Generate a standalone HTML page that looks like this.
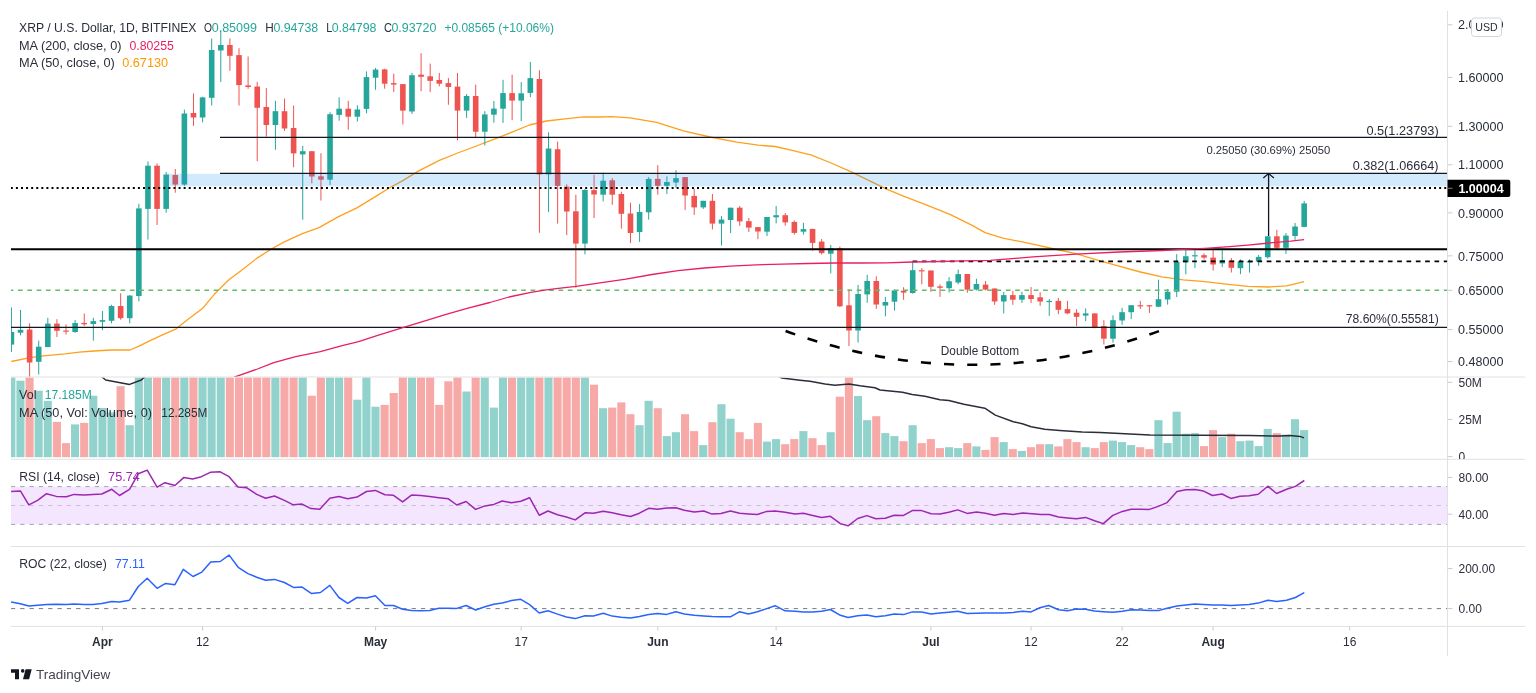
<!DOCTYPE html><html><head><meta charset="utf-8"><title>XRP / U.S. Dollar chart</title><style>html,body{margin:0;padding:0;background:#fff;}body{width:1536px;height:693px;overflow:hidden;}svg{display:block;} text{font-family:"Liberation Sans", Arial, sans-serif;}</style></head><body>
<svg width="1536" height="693" viewBox="0 0 1536 693">
<defs><clipPath id="cp"><rect x="11" y="11" width="1436.5" height="366"/></clipPath><clipPath id="cv"><rect x="11" y="377.5" width="1436.5" height="81.5"/></clipPath><clipPath id="cr"><rect x="11" y="459.5" width="1436.5" height="87.0"/></clipPath><clipPath id="co"><rect x="11" y="547.0" width="1436.5" height="79.5"/></clipPath><clipPath id="cva"><rect x="1447.5" y="377.5" width="100" height="81.5"/></clipPath></defs>
<rect x="0" y="0" width="1536" height="693" fill="#ffffff"/>
<g clip-path="url(#cp)">
<polyline points="11.3,361.5 28.9,357.9 43.3,355.8 64.9,353.9 79.4,352.2 93.8,351.0 111.1,350.0 129.9,350.0 138.5,346.4 148.6,341.3 161.9,335.2 176.2,328.8 188.1,319.3 202.4,308.6 214.3,294.3 228.6,280.0 242.9,269.3 257.1,258.1 271.4,249.0 283.3,242.4 302.4,233.6 319.0,227.6 338.1,216.9 356.9,207.9 373.8,197.6 388.8,188.2 401.9,181.1 418.8,170.9 439.4,160.4 456.3,153.5 475.1,146.5 493.8,139.4 512.6,131.9 529.5,125.0 546.4,121.0 565.1,118.8 583.9,116.9 600.0,117.0 611.4,116.7 630.0,117.8 656.7,122.4 683.4,130.9 710.1,137.0 736.8,142.2 758.2,145.2 775.2,146.5 792.1,150.4 811.6,155.2 831.1,163.0 850.7,171.7 870.2,181.2 887.1,189.4 902.8,195.9 922.3,203.4 940.0,210.3 950.4,214.6 971.7,225.1 985.1,232.6 1002.9,238.2 1022.2,241.9 1037.3,245.1 1054.4,249.0 1075.9,253.7 1097.4,260.2 1118.9,266.2 1140.4,272.0 1161.9,276.9 1183.3,279.9 1204.8,281.6 1226.3,284.2 1247.8,286.4 1269.3,287.0 1286.5,285.9 1295.0,283.8 1304.1,281.6" fill="none" stroke="#ffa01c" stroke-width="1.3" stroke-linejoin="round"/>
<rect x="10.90" y="307.4" width="1" height="44.6" fill="#26a69a"/>
<rect x="8.60" y="332.0" width="5.6" height="12.6" fill="#26a69a"/>
<rect x="20.00" y="310.0" width="1" height="25.3" fill="#26a69a"/>
<rect x="17.70" y="329.8" width="5.6" height="2.9" fill="#26a69a"/>
<rect x="29.11" y="323.3" width="1" height="56.7" fill="#ef5350"/>
<rect x="26.81" y="329.5" width="5.6" height="33.0" fill="#ef5350"/>
<rect x="38.21" y="340.6" width="1" height="33.9" fill="#26a69a"/>
<rect x="35.91" y="346.7" width="5.6" height="15.1" fill="#26a69a"/>
<rect x="47.32" y="317.8" width="1" height="29.3" fill="#26a69a"/>
<rect x="45.02" y="323.6" width="5.6" height="23.5" fill="#26a69a"/>
<rect x="56.42" y="319.2" width="1" height="17.8" fill="#ef5350"/>
<rect x="54.12" y="323.6" width="5.6" height="7.2" fill="#ef5350"/>
<rect x="65.52" y="324.4" width="1" height="10.1" fill="#ef5350"/>
<rect x="63.22" y="330.5" width="5.6" height="1.2" fill="#ef5350"/>
<rect x="74.63" y="320.0" width="1" height="12.7" fill="#26a69a"/>
<rect x="72.33" y="323.0" width="5.6" height="9.0" fill="#26a69a"/>
<rect x="83.73" y="313.5" width="1" height="12.4" fill="#ef5350"/>
<rect x="81.43" y="322.9" width="5.6" height="1.4" fill="#ef5350"/>
<rect x="92.84" y="317.8" width="1" height="22.8" fill="#26a69a"/>
<rect x="90.54" y="321.1" width="5.6" height="2.9" fill="#26a69a"/>
<rect x="101.94" y="311.0" width="1" height="19.2" fill="#26a69a"/>
<rect x="99.64" y="320.1" width="5.6" height="1.7" fill="#26a69a"/>
<rect x="111.04" y="304.8" width="1" height="18.5" fill="#26a69a"/>
<rect x="108.74" y="306.0" width="5.6" height="14.8" fill="#26a69a"/>
<rect x="120.15" y="293.3" width="1" height="26.4" fill="#ef5350"/>
<rect x="117.85" y="306.0" width="5.6" height="12.2" fill="#ef5350"/>
<rect x="129.25" y="295.0" width="1" height="28.3" fill="#26a69a"/>
<rect x="126.95" y="295.6" width="5.6" height="22.6" fill="#26a69a"/>
<rect x="138.36" y="203.8" width="1" height="97.5" fill="#26a69a"/>
<rect x="136.06" y="208.4" width="5.6" height="87.6" fill="#26a69a"/>
<rect x="147.46" y="161.5" width="1" height="78.1" fill="#26a69a"/>
<rect x="145.16" y="165.7" width="5.6" height="43.2" fill="#26a69a"/>
<rect x="156.56" y="163.4" width="1" height="61.6" fill="#ef5350"/>
<rect x="154.26" y="165.7" width="5.6" height="43.2" fill="#ef5350"/>
<rect x="165.67" y="172.0" width="1" height="40.8" fill="#26a69a"/>
<rect x="163.37" y="174.5" width="5.6" height="34.4" fill="#26a69a"/>
<rect x="174.77" y="169.0" width="1" height="23.7" fill="#ef5350"/>
<rect x="172.47" y="175.0" width="5.6" height="9.6" fill="#ef5350"/>
<rect x="183.88" y="109.6" width="1" height="76.2" fill="#26a69a"/>
<rect x="181.58" y="113.5" width="5.6" height="71.1" fill="#26a69a"/>
<rect x="192.98" y="93.4" width="1" height="32.4" fill="#ef5350"/>
<rect x="190.68" y="113.0" width="5.6" height="4.5" fill="#ef5350"/>
<rect x="202.08" y="96.7" width="1" height="25.6" fill="#26a69a"/>
<rect x="199.78" y="97.4" width="5.6" height="20.1" fill="#26a69a"/>
<rect x="211.19" y="38.5" width="1" height="67.0" fill="#26a69a"/>
<rect x="208.89" y="50.0" width="5.6" height="47.8" fill="#26a69a"/>
<rect x="220.29" y="30.4" width="1" height="51.5" fill="#26a69a"/>
<rect x="217.99" y="45.0" width="5.6" height="5.5" fill="#26a69a"/>
<rect x="229.40" y="38.5" width="1" height="32.3" fill="#ef5350"/>
<rect x="227.10" y="45.0" width="5.6" height="10.8" fill="#ef5350"/>
<rect x="238.50" y="48.2" width="1" height="57.3" fill="#ef5350"/>
<rect x="236.20" y="55.1" width="5.6" height="30.0" fill="#ef5350"/>
<rect x="247.60" y="56.5" width="1" height="32.3" fill="#ef5350"/>
<rect x="245.30" y="85.4" width="5.6" height="1.6" fill="#ef5350"/>
<rect x="256.71" y="81.9" width="1" height="79.4" fill="#ef5350"/>
<rect x="254.41" y="86.5" width="5.6" height="21.3" fill="#ef5350"/>
<rect x="265.81" y="88.1" width="1" height="48.5" fill="#ef5350"/>
<rect x="263.51" y="107.0" width="5.6" height="18.0" fill="#ef5350"/>
<rect x="274.92" y="100.8" width="1" height="49.0" fill="#26a69a"/>
<rect x="272.62" y="111.2" width="5.6" height="13.8" fill="#26a69a"/>
<rect x="284.02" y="98.5" width="1" height="32.4" fill="#ef5350"/>
<rect x="281.72" y="111.2" width="5.6" height="17.3" fill="#ef5350"/>
<rect x="293.12" y="105.5" width="1" height="61.8" fill="#ef5350"/>
<rect x="290.82" y="128.0" width="5.6" height="25.4" fill="#ef5350"/>
<rect x="302.23" y="145.9" width="1" height="73.8" fill="#26a69a"/>
<rect x="299.93" y="151.2" width="5.6" height="3.2" fill="#26a69a"/>
<rect x="311.33" y="151.2" width="1" height="32.2" fill="#ef5350"/>
<rect x="309.03" y="151.2" width="5.6" height="25.3" fill="#ef5350"/>
<rect x="320.44" y="153.2" width="1" height="47.3" fill="#ef5350"/>
<rect x="318.14" y="176.3" width="5.6" height="3.4" fill="#ef5350"/>
<rect x="329.54" y="112.3" width="1" height="72.7" fill="#26a69a"/>
<rect x="327.24" y="114.2" width="5.6" height="65.5" fill="#26a69a"/>
<rect x="338.64" y="97.3" width="1" height="23.4" fill="#26a69a"/>
<rect x="336.34" y="108.7" width="5.6" height="6.2" fill="#26a69a"/>
<rect x="347.75" y="100.8" width="1" height="28.9" fill="#ef5350"/>
<rect x="345.45" y="108.7" width="5.6" height="8.0" fill="#ef5350"/>
<rect x="356.85" y="105.2" width="1" height="16.4" fill="#26a69a"/>
<rect x="354.55" y="109.5" width="5.6" height="7.2" fill="#26a69a"/>
<rect x="365.96" y="71.4" width="1" height="41.9" fill="#26a69a"/>
<rect x="363.66" y="77.1" width="5.6" height="31.8" fill="#26a69a"/>
<rect x="375.06" y="67.9" width="1" height="21.9" fill="#26a69a"/>
<rect x="372.76" y="69.6" width="5.6" height="8.1" fill="#26a69a"/>
<rect x="384.16" y="68.7" width="1" height="20.0" fill="#ef5350"/>
<rect x="381.86" y="69.4" width="5.6" height="14.3" fill="#ef5350"/>
<rect x="393.27" y="73.7" width="1" height="18.4" fill="#ef5350"/>
<rect x="390.97" y="83.1" width="5.6" height="1.5" fill="#ef5350"/>
<rect x="402.37" y="84.1" width="1" height="40.4" fill="#ef5350"/>
<rect x="400.07" y="84.1" width="5.6" height="26.5" fill="#ef5350"/>
<rect x="411.48" y="72.9" width="1" height="41.0" fill="#26a69a"/>
<rect x="409.18" y="75.2" width="5.6" height="36.3" fill="#26a69a"/>
<rect x="420.58" y="53.2" width="1" height="38.1" fill="#ef5350"/>
<rect x="418.28" y="74.6" width="5.6" height="2.2" fill="#ef5350"/>
<rect x="429.68" y="63.6" width="1" height="28.5" fill="#ef5350"/>
<rect x="427.38" y="76.3" width="5.6" height="4.6" fill="#ef5350"/>
<rect x="438.79" y="72.9" width="1" height="13.5" fill="#ef5350"/>
<rect x="436.49" y="80.0" width="5.6" height="3.7" fill="#ef5350"/>
<rect x="447.89" y="77.9" width="1" height="26.9" fill="#ef5350"/>
<rect x="445.59" y="83.1" width="5.6" height="3.8" fill="#ef5350"/>
<rect x="457.00" y="72.9" width="1" height="67.5" fill="#ef5350"/>
<rect x="454.70" y="86.6" width="5.6" height="24.0" fill="#ef5350"/>
<rect x="466.10" y="94.1" width="1" height="23.8" fill="#26a69a"/>
<rect x="463.80" y="96.0" width="5.6" height="14.6" fill="#26a69a"/>
<rect x="475.20" y="84.6" width="1" height="52.4" fill="#ef5350"/>
<rect x="472.90" y="96.0" width="5.6" height="35.7" fill="#ef5350"/>
<rect x="484.31" y="111.1" width="1" height="34.4" fill="#26a69a"/>
<rect x="482.01" y="114.4" width="5.6" height="17.3" fill="#26a69a"/>
<rect x="493.41" y="101.0" width="1" height="21.7" fill="#26a69a"/>
<rect x="491.11" y="108.6" width="5.6" height="6.1" fill="#26a69a"/>
<rect x="502.52" y="79.8" width="1" height="43.1" fill="#26a69a"/>
<rect x="500.22" y="93.1" width="5.6" height="15.6" fill="#26a69a"/>
<rect x="511.62" y="74.6" width="1" height="45.6" fill="#ef5350"/>
<rect x="509.32" y="93.1" width="5.6" height="7.5" fill="#ef5350"/>
<rect x="520.72" y="82.1" width="1" height="38.9" fill="#26a69a"/>
<rect x="518.42" y="93.3" width="5.6" height="7.3" fill="#26a69a"/>
<rect x="529.83" y="61.9" width="1" height="35.2" fill="#26a69a"/>
<rect x="527.53" y="78.1" width="5.6" height="14.8" fill="#26a69a"/>
<rect x="538.93" y="70.2" width="1" height="162.6" fill="#ef5350"/>
<rect x="536.63" y="79.0" width="5.6" height="95.4" fill="#ef5350"/>
<rect x="548.04" y="132.3" width="1" height="79.7" fill="#26a69a"/>
<rect x="545.74" y="148.5" width="5.6" height="25.9" fill="#26a69a"/>
<rect x="557.14" y="141.6" width="1" height="82.0" fill="#ef5350"/>
<rect x="554.84" y="149.2" width="5.6" height="36.7" fill="#ef5350"/>
<rect x="566.24" y="184.3" width="1" height="50.8" fill="#ef5350"/>
<rect x="563.94" y="186.6" width="5.6" height="24.9" fill="#ef5350"/>
<rect x="575.35" y="194.7" width="1" height="93.0" fill="#ef5350"/>
<rect x="573.05" y="211.3" width="5.6" height="32.3" fill="#ef5350"/>
<rect x="584.45" y="188.9" width="1" height="65.4" fill="#26a69a"/>
<rect x="582.15" y="190.0" width="5.6" height="53.6" fill="#26a69a"/>
<rect x="593.56" y="174.8" width="1" height="43.3" fill="#ef5350"/>
<rect x="591.26" y="190.1" width="5.6" height="4.4" fill="#ef5350"/>
<rect x="602.66" y="172.5" width="1" height="28.9" fill="#26a69a"/>
<rect x="600.36" y="180.7" width="5.6" height="14.0" fill="#26a69a"/>
<rect x="611.76" y="178.1" width="1" height="26.7" fill="#ef5350"/>
<rect x="609.46" y="180.3" width="5.6" height="14.4" fill="#ef5350"/>
<rect x="620.87" y="191.6" width="1" height="37.0" fill="#ef5350"/>
<rect x="618.57" y="194.0" width="5.6" height="19.8" fill="#ef5350"/>
<rect x="629.97" y="202.7" width="1" height="40.4" fill="#ef5350"/>
<rect x="627.67" y="213.5" width="5.6" height="19.5" fill="#ef5350"/>
<rect x="639.08" y="204.1" width="1" height="37.8" fill="#26a69a"/>
<rect x="636.78" y="212.0" width="5.6" height="20.0" fill="#26a69a"/>
<rect x="648.18" y="177.1" width="1" height="42.5" fill="#26a69a"/>
<rect x="645.88" y="178.9" width="5.6" height="33.4" fill="#26a69a"/>
<rect x="657.28" y="165.2" width="1" height="29.5" fill="#ef5350"/>
<rect x="654.98" y="178.9" width="5.6" height="6.9" fill="#ef5350"/>
<rect x="666.39" y="176.3" width="1" height="17.7" fill="#26a69a"/>
<rect x="664.09" y="182.0" width="5.6" height="3.8" fill="#26a69a"/>
<rect x="675.49" y="170.2" width="1" height="17.6" fill="#26a69a"/>
<rect x="673.19" y="178.1" width="5.6" height="4.4" fill="#26a69a"/>
<rect x="684.60" y="177.1" width="1" height="32.8" fill="#ef5350"/>
<rect x="682.30" y="177.1" width="5.6" height="18.4" fill="#ef5350"/>
<rect x="693.70" y="188.7" width="1" height="26.2" fill="#ef5350"/>
<rect x="691.40" y="195.9" width="5.6" height="11.5" fill="#ef5350"/>
<rect x="702.80" y="200.8" width="1" height="8.1" fill="#26a69a"/>
<rect x="700.50" y="200.8" width="5.6" height="6.6" fill="#26a69a"/>
<rect x="711.91" y="194.0" width="1" height="35.4" fill="#ef5350"/>
<rect x="709.61" y="200.8" width="5.6" height="22.8" fill="#ef5350"/>
<rect x="721.01" y="216.1" width="1" height="29.4" fill="#26a69a"/>
<rect x="718.71" y="219.6" width="5.6" height="4.0" fill="#26a69a"/>
<rect x="730.12" y="207.7" width="1" height="25.3" fill="#26a69a"/>
<rect x="727.82" y="207.7" width="5.6" height="12.3" fill="#26a69a"/>
<rect x="739.22" y="206.0" width="1" height="19.8" fill="#ef5350"/>
<rect x="736.92" y="207.7" width="5.6" height="13.7" fill="#ef5350"/>
<rect x="748.32" y="217.9" width="1" height="14.1" fill="#ef5350"/>
<rect x="746.02" y="221.2" width="5.6" height="6.4" fill="#ef5350"/>
<rect x="757.43" y="227.1" width="1" height="12.1" fill="#ef5350"/>
<rect x="755.13" y="227.1" width="5.6" height="4.4" fill="#ef5350"/>
<rect x="766.53" y="217.0" width="1" height="19.1" fill="#26a69a"/>
<rect x="764.23" y="217.0" width="5.6" height="14.7" fill="#26a69a"/>
<rect x="775.64" y="206.0" width="1" height="17.4" fill="#26a69a"/>
<rect x="773.34" y="215.2" width="5.6" height="2.1" fill="#26a69a"/>
<rect x="784.74" y="213.0" width="1" height="12.7" fill="#ef5350"/>
<rect x="782.44" y="215.2" width="5.6" height="7.2" fill="#ef5350"/>
<rect x="793.84" y="220.5" width="1" height="14.1" fill="#ef5350"/>
<rect x="791.54" y="221.9" width="5.6" height="11.0" fill="#ef5350"/>
<rect x="802.95" y="222.8" width="1" height="11.8" fill="#26a69a"/>
<rect x="800.65" y="229.1" width="5.6" height="2.6" fill="#26a69a"/>
<rect x="812.05" y="228.9" width="1" height="21.9" fill="#ef5350"/>
<rect x="809.75" y="228.9" width="5.6" height="14.0" fill="#ef5350"/>
<rect x="821.16" y="239.0" width="1" height="15.5" fill="#ef5350"/>
<rect x="818.86" y="241.6" width="5.6" height="11.5" fill="#ef5350"/>
<rect x="830.26" y="245.0" width="1" height="28.4" fill="#26a69a"/>
<rect x="827.96" y="248.3" width="5.6" height="5.4" fill="#26a69a"/>
<rect x="839.36" y="246.5" width="1" height="60.5" fill="#ef5350"/>
<rect x="837.06" y="248.3" width="5.6" height="58.0" fill="#ef5350"/>
<rect x="848.47" y="289.2" width="1" height="56.8" fill="#ef5350"/>
<rect x="846.17" y="305.3" width="5.6" height="25.2" fill="#ef5350"/>
<rect x="857.57" y="284.9" width="1" height="57.7" fill="#26a69a"/>
<rect x="855.27" y="294.0" width="5.6" height="36.5" fill="#26a69a"/>
<rect x="866.68" y="274.8" width="1" height="27.9" fill="#26a69a"/>
<rect x="864.38" y="281.0" width="5.6" height="13.4" fill="#26a69a"/>
<rect x="875.78" y="276.3" width="1" height="32.6" fill="#ef5350"/>
<rect x="873.48" y="281.0" width="5.6" height="23.5" fill="#ef5350"/>
<rect x="884.88" y="296.9" width="1" height="19.5" fill="#26a69a"/>
<rect x="882.58" y="302.0" width="5.6" height="3.6" fill="#26a69a"/>
<rect x="893.99" y="289.2" width="1" height="21.4" fill="#26a69a"/>
<rect x="891.69" y="290.4" width="5.6" height="11.3" fill="#26a69a"/>
<rect x="903.09" y="287.2" width="1" height="12.6" fill="#ef5350"/>
<rect x="900.79" y="290.7" width="5.6" height="1.9" fill="#ef5350"/>
<rect x="912.20" y="261.5" width="1" height="32.1" fill="#26a69a"/>
<rect x="909.90" y="270.2" width="5.6" height="22.8" fill="#26a69a"/>
<rect x="921.30" y="268.0" width="1" height="16.3" fill="#ef5350"/>
<rect x="919.00" y="270.2" width="5.6" height="1.2" fill="#ef5350"/>
<rect x="930.40" y="270.5" width="1" height="21.3" fill="#ef5350"/>
<rect x="928.10" y="270.5" width="5.6" height="16.3" fill="#ef5350"/>
<rect x="939.51" y="284.3" width="1" height="12.6" fill="#ef5350"/>
<rect x="937.21" y="286.4" width="5.6" height="1.4" fill="#ef5350"/>
<rect x="948.61" y="277.1" width="1" height="15.5" fill="#26a69a"/>
<rect x="946.31" y="281.3" width="5.6" height="6.9" fill="#26a69a"/>
<rect x="957.72" y="269.5" width="1" height="14.8" fill="#26a69a"/>
<rect x="955.42" y="274.1" width="5.6" height="8.4" fill="#26a69a"/>
<rect x="966.82" y="274.0" width="1" height="18.8" fill="#ef5350"/>
<rect x="964.52" y="274.0" width="5.6" height="15.6" fill="#ef5350"/>
<rect x="975.92" y="278.8" width="1" height="11.6" fill="#26a69a"/>
<rect x="973.62" y="284.0" width="5.6" height="5.6" fill="#26a69a"/>
<rect x="985.03" y="281.0" width="1" height="9.4" fill="#ef5350"/>
<rect x="982.73" y="284.6" width="5.6" height="5.0" fill="#ef5350"/>
<rect x="994.13" y="288.5" width="1" height="16.3" fill="#ef5350"/>
<rect x="991.83" y="288.5" width="5.6" height="13.0" fill="#ef5350"/>
<rect x="1003.24" y="291.8" width="1" height="21.6" fill="#26a69a"/>
<rect x="1000.94" y="295.1" width="5.6" height="6.4" fill="#26a69a"/>
<rect x="1012.34" y="290.8" width="1" height="14.0" fill="#ef5350"/>
<rect x="1010.04" y="295.1" width="5.6" height="4.6" fill="#ef5350"/>
<rect x="1021.44" y="291.8" width="1" height="11.1" fill="#26a69a"/>
<rect x="1019.14" y="295.1" width="5.6" height="4.6" fill="#26a69a"/>
<rect x="1030.55" y="287.0" width="1" height="15.9" fill="#ef5350"/>
<rect x="1028.25" y="295.1" width="5.6" height="3.9" fill="#ef5350"/>
<rect x="1039.65" y="292.2" width="1" height="13.6" fill="#ef5350"/>
<rect x="1037.35" y="297.3" width="5.6" height="4.2" fill="#ef5350"/>
<rect x="1048.76" y="299.0" width="1" height="16.9" fill="#26a69a"/>
<rect x="1046.46" y="300.9" width="5.6" height="1.2" fill="#26a69a"/>
<rect x="1057.86" y="298.0" width="1" height="16.2" fill="#ef5350"/>
<rect x="1055.56" y="300.9" width="5.6" height="8.9" fill="#ef5350"/>
<rect x="1066.96" y="300.9" width="1" height="13.3" fill="#ef5350"/>
<rect x="1064.66" y="309.1" width="5.6" height="4.3" fill="#ef5350"/>
<rect x="1076.07" y="309.1" width="1" height="16.9" fill="#ef5350"/>
<rect x="1073.77" y="312.7" width="5.6" height="4.1" fill="#ef5350"/>
<rect x="1085.17" y="308.4" width="1" height="12.7" fill="#26a69a"/>
<rect x="1082.87" y="313.4" width="5.6" height="2.2" fill="#26a69a"/>
<rect x="1094.28" y="313.4" width="1" height="14.9" fill="#ef5350"/>
<rect x="1091.98" y="313.4" width="5.6" height="13.8" fill="#ef5350"/>
<rect x="1103.38" y="320.2" width="1" height="24.3" fill="#ef5350"/>
<rect x="1101.08" y="326.0" width="5.6" height="12.7" fill="#ef5350"/>
<rect x="1112.48" y="315.3" width="1" height="27.4" fill="#26a69a"/>
<rect x="1110.18" y="320.2" width="5.6" height="18.5" fill="#26a69a"/>
<rect x="1121.59" y="307.8" width="1" height="17.0" fill="#26a69a"/>
<rect x="1119.29" y="312.2" width="5.6" height="8.3" fill="#26a69a"/>
<rect x="1130.69" y="305.2" width="1" height="13.9" fill="#26a69a"/>
<rect x="1128.39" y="305.2" width="5.6" height="7.0" fill="#26a69a"/>
<rect x="1139.80" y="300.9" width="1" height="8.1" fill="#ef5350"/>
<rect x="1137.50" y="305.2" width="5.6" height="1.2" fill="#ef5350"/>
<rect x="1148.90" y="305.2" width="1" height="7.7" fill="#ef5350"/>
<rect x="1146.60" y="305.2" width="5.6" height="1.2" fill="#ef5350"/>
<rect x="1158.00" y="279.7" width="1" height="27.4" fill="#26a69a"/>
<rect x="1155.70" y="299.2" width="5.6" height="7.5" fill="#26a69a"/>
<rect x="1167.11" y="289.1" width="1" height="15.5" fill="#26a69a"/>
<rect x="1164.81" y="291.7" width="5.6" height="7.8" fill="#26a69a"/>
<rect x="1176.21" y="254.1" width="1" height="42.9" fill="#26a69a"/>
<rect x="1173.91" y="261.9" width="5.6" height="29.8" fill="#26a69a"/>
<rect x="1185.32" y="250.1" width="1" height="24.2" fill="#26a69a"/>
<rect x="1183.02" y="256.2" width="5.6" height="6.2" fill="#26a69a"/>
<rect x="1194.42" y="250.4" width="1" height="17.7" fill="#26a69a"/>
<rect x="1192.12" y="255.2" width="5.6" height="1.2" fill="#26a69a"/>
<rect x="1203.52" y="253.3" width="1" height="6.2" fill="#ef5350"/>
<rect x="1201.22" y="255.2" width="5.6" height="2.4" fill="#ef5350"/>
<rect x="1212.63" y="247.9" width="1" height="22.7" fill="#ef5350"/>
<rect x="1210.33" y="257.6" width="5.6" height="6.9" fill="#ef5350"/>
<rect x="1221.73" y="248.4" width="1" height="18.7" fill="#26a69a"/>
<rect x="1219.43" y="260.2" width="5.6" height="3.2" fill="#26a69a"/>
<rect x="1230.84" y="258.0" width="1" height="14.5" fill="#ef5350"/>
<rect x="1228.54" y="260.5" width="5.6" height="7.3" fill="#ef5350"/>
<rect x="1239.94" y="259.3" width="1" height="14.9" fill="#26a69a"/>
<rect x="1237.64" y="261.6" width="5.6" height="6.6" fill="#26a69a"/>
<rect x="1249.04" y="259.3" width="1" height="13.3" fill="#26a69a"/>
<rect x="1246.74" y="261.3" width="5.6" height="1.2" fill="#26a69a"/>
<rect x="1258.15" y="255.0" width="1" height="10.8" fill="#26a69a"/>
<rect x="1255.85" y="256.9" width="5.6" height="4.6" fill="#26a69a"/>
<rect x="1267.25" y="236.3" width="1" height="22.3" fill="#26a69a"/>
<rect x="1264.95" y="236.3" width="5.6" height="20.9" fill="#26a69a"/>
<rect x="1276.36" y="229.8" width="1" height="19.2" fill="#ef5350"/>
<rect x="1274.06" y="236.3" width="5.6" height="11.5" fill="#ef5350"/>
<rect x="1285.46" y="233.1" width="1" height="20.8" fill="#26a69a"/>
<rect x="1283.16" y="235.6" width="5.6" height="12.2" fill="#26a69a"/>
<rect x="1294.56" y="223.0" width="1" height="16.9" fill="#26a69a"/>
<rect x="1292.26" y="226.5" width="5.6" height="9.5" fill="#26a69a"/>
<rect x="1303.67" y="200.9" width="1" height="26.4" fill="#26a69a"/>
<rect x="1301.37" y="203.4" width="5.6" height="23.5" fill="#26a69a"/>
<rect x="166.4" y="173.8" width="1281.1" height="12.6" fill="rgba(33,150,243,0.2)"/>
<line x1="220" y1="137.4" x2="1447.5" y2="137.4" stroke="#131722" stroke-width="1.2"/>
<line x1="220" y1="173.4" x2="1447.5" y2="173.4" stroke="#131722" stroke-width="1.2"/>
<line x1="11" y1="188" x2="1447.5" y2="188" stroke="#000" stroke-width="2" stroke-dasharray="2 3.083" stroke-dashoffset="0.18"/>
<line x1="11" y1="249.3" x2="1447.5" y2="249.3" stroke="#000" stroke-width="2"/>
<line x1="912.6" y1="261.4" x2="1447.5" y2="261.4" stroke="#000" stroke-width="1.6" stroke-dasharray="4.7 4.619"/>
<line x1="11" y1="290.2" x2="1447.5" y2="290.2" stroke="#66bb6a" stroke-width="1.6" stroke-dasharray="4.7 4.619" stroke-dashoffset="2.32"/>
<line x1="11" y1="327.4" x2="1447.5" y2="327.4" stroke="#131722" stroke-width="1.2"/>
<polyline points="234.2,377.2 257.4,369.0 273.8,362.7 295.7,356.6 320.3,351.7 342.2,345.7 358.6,341.6 377.7,335.3 403.7,327.4 424.2,321.1 446.1,314.3 468.0,308.2 489.9,302.5 509.0,297.0 530.9,292.4 544.5,290.2 558.2,288.3 576.0,286.4 596.5,283.4 626.0,279.2 652.0,274.5 678.1,270.6 704.2,268.0 730.2,266.1 756.3,264.8 782.3,264.1 808.3,263.5 834.4,263.0 860.4,263.0 886.5,262.8 912.5,262.0 938.5,261.5 964.6,260.9 990.0,260.4 1033.0,256.9 1075.9,254.1 1118.9,252.0 1161.9,250.5 1183.3,249.4 1204.8,248.3 1226.3,246.8 1247.8,245.1 1269.3,243.0 1290.8,241.2 1304.1,239.7" fill="none" stroke="#e91e63" stroke-width="1.3" stroke-linejoin="round"/>
<line x1="1268.6" y1="236" x2="1268.6" y2="174" stroke="#131722" stroke-width="1.3"/>
<polyline points="1263.3,177.9 1268.6,173.6 1273.9,177.9" fill="none" stroke="#131722" stroke-width="1.3"/>
<path d="M785.6,331 Q972.4,398.6 1159.3,331" fill="none" stroke="#000" stroke-width="2.6" stroke-dasharray="10.1 13.1"/>
</g>
<text x="1366.4" y="134.5" font-size="12" fill="#2a2e39" textLength="72.3" lengthAdjust="spacingAndGlyphs">0.5(1.23793)</text>
<text x="1352.7" y="169.5" font-size="12" fill="#2a2e39" textLength="85.9" lengthAdjust="spacingAndGlyphs">0.382(1.06664)</text>
<text x="1345.8" y="323.4" font-size="12" fill="#2a2e39" textLength="92.9" lengthAdjust="spacingAndGlyphs">78.60%(0.55581)</text>
<text x="1206.4" y="154" font-size="11" fill="#2a2e39" textLength="123.9" lengthAdjust="spacingAndGlyphs">0.25050 (30.69%) 25050</text>
<text x="940.8" y="354.5" font-size="12" fill="#2a2e39" textLength="78.3" lengthAdjust="spacingAndGlyphs">Double Bottom</text>
<text x="19" y="32" font-size="12" fill="#2a2e39" textLength="177.5" lengthAdjust="spacingAndGlyphs">XRP / U.S. Dollar, 1D, BITFINEX</text>
<text x="204" y="32" font-size="12" fill="#2a2e39" textLength="8" lengthAdjust="spacingAndGlyphs">O</text>
<text x="211.7" y="32" font-size="12" fill="#26a69a" textLength="45.3" lengthAdjust="spacingAndGlyphs">0.85099</text>
<text x="265.2" y="32" font-size="12" fill="#2a2e39" textLength="8.5" lengthAdjust="spacingAndGlyphs">H</text>
<text x="273.4" y="32" font-size="12" fill="#26a69a" textLength="44.8" lengthAdjust="spacingAndGlyphs">0.94738</text>
<text x="326.2" y="32" font-size="12" fill="#2a2e39" textLength="6" lengthAdjust="spacingAndGlyphs">L</text>
<text x="331.7" y="32" font-size="12" fill="#26a69a" textLength="44.8" lengthAdjust="spacingAndGlyphs">0.84798</text>
<text x="384" y="32" font-size="12" fill="#2a2e39" textLength="8" lengthAdjust="spacingAndGlyphs">C</text>
<text x="391.4" y="32" font-size="12" fill="#26a69a" textLength="45" lengthAdjust="spacingAndGlyphs">0.93720</text>
<text x="444.4" y="32" font-size="12" fill="#26a69a" textLength="109.6" lengthAdjust="spacingAndGlyphs">+0.08565 (+10.06%)</text>
<text x="19" y="49.9" font-size="12" fill="#2a2e39" textLength="102.5" lengthAdjust="spacingAndGlyphs">MA (200, close, 0)</text>
<text x="129.4" y="49.9" font-size="12" fill="#e91e63" textLength="44.5" lengthAdjust="spacingAndGlyphs">0.80255</text>
<text x="19" y="67.4" font-size="12" fill="#2a2e39" textLength="95.8" lengthAdjust="spacingAndGlyphs">MA (50, close, 0)</text>
<text x="122.2" y="67.4" font-size="12" fill="#ff9800" textLength="45.9" lengthAdjust="spacingAndGlyphs">0.67130</text>
<g clip-path="url(#cv)">
<rect x="7.30" y="370.0" width="8.1" height="87.2" fill="#92d2cc"/>
<rect x="16.40" y="380.7" width="8.1" height="76.5" fill="#92d2cc"/>
<rect x="25.51" y="370.0" width="8.1" height="87.2" fill="#f7a9a7"/>
<rect x="34.61" y="390.7" width="8.1" height="66.5" fill="#92d2cc"/>
<rect x="43.72" y="400.9" width="8.1" height="56.3" fill="#92d2cc"/>
<rect x="52.82" y="421.9" width="8.1" height="35.3" fill="#f7a9a7"/>
<rect x="61.92" y="443.1" width="8.1" height="14.1" fill="#f7a9a7"/>
<rect x="71.03" y="424.4" width="8.1" height="32.8" fill="#92d2cc"/>
<rect x="80.13" y="422.9" width="8.1" height="34.3" fill="#f7a9a7"/>
<rect x="89.24" y="395.7" width="8.1" height="61.5" fill="#92d2cc"/>
<rect x="98.34" y="408.0" width="8.1" height="49.2" fill="#92d2cc"/>
<rect x="107.44" y="412.4" width="8.1" height="44.8" fill="#92d2cc"/>
<rect x="116.55" y="386.2" width="8.1" height="71.0" fill="#f7a9a7"/>
<rect x="125.65" y="425.2" width="8.1" height="32.0" fill="#92d2cc"/>
<rect x="134.76" y="370.0" width="8.1" height="87.2" fill="#92d2cc"/>
<rect x="143.86" y="370.0" width="8.1" height="87.2" fill="#92d2cc"/>
<rect x="152.96" y="370.0" width="8.1" height="87.2" fill="#f7a9a7"/>
<rect x="162.07" y="370.0" width="8.1" height="87.2" fill="#92d2cc"/>
<rect x="171.17" y="370.0" width="8.1" height="87.2" fill="#f7a9a7"/>
<rect x="180.28" y="370.0" width="8.1" height="87.2" fill="#92d2cc"/>
<rect x="189.38" y="370.0" width="8.1" height="87.2" fill="#f7a9a7"/>
<rect x="198.48" y="370.0" width="8.1" height="87.2" fill="#92d2cc"/>
<rect x="207.59" y="370.0" width="8.1" height="87.2" fill="#92d2cc"/>
<rect x="216.69" y="370.0" width="8.1" height="87.2" fill="#92d2cc"/>
<rect x="225.80" y="370.0" width="8.1" height="87.2" fill="#f7a9a7"/>
<rect x="234.90" y="370.0" width="8.1" height="87.2" fill="#f7a9a7"/>
<rect x="244.00" y="370.0" width="8.1" height="87.2" fill="#f7a9a7"/>
<rect x="253.11" y="370.0" width="8.1" height="87.2" fill="#f7a9a7"/>
<rect x="262.21" y="370.0" width="8.1" height="87.2" fill="#f7a9a7"/>
<rect x="271.32" y="370.0" width="8.1" height="87.2" fill="#92d2cc"/>
<rect x="280.42" y="370.0" width="8.1" height="87.2" fill="#f7a9a7"/>
<rect x="289.52" y="370.0" width="8.1" height="87.2" fill="#f7a9a7"/>
<rect x="298.63" y="370.0" width="8.1" height="87.2" fill="#92d2cc"/>
<rect x="307.73" y="395.7" width="8.1" height="61.5" fill="#f7a9a7"/>
<rect x="316.84" y="370.0" width="8.1" height="87.2" fill="#f7a9a7"/>
<rect x="325.94" y="370.0" width="8.1" height="87.2" fill="#92d2cc"/>
<rect x="335.04" y="370.0" width="8.1" height="87.2" fill="#92d2cc"/>
<rect x="344.15" y="370.0" width="8.1" height="87.2" fill="#f7a9a7"/>
<rect x="353.25" y="399.7" width="8.1" height="57.5" fill="#92d2cc"/>
<rect x="362.36" y="370.0" width="8.1" height="87.2" fill="#92d2cc"/>
<rect x="371.46" y="406.7" width="8.1" height="50.5" fill="#92d2cc"/>
<rect x="380.56" y="404.9" width="8.1" height="52.3" fill="#f7a9a7"/>
<rect x="389.67" y="393.0" width="8.1" height="64.2" fill="#f7a9a7"/>
<rect x="398.77" y="370.0" width="8.1" height="87.2" fill="#f7a9a7"/>
<rect x="407.88" y="370.0" width="8.1" height="87.2" fill="#92d2cc"/>
<rect x="416.98" y="370.0" width="8.1" height="87.2" fill="#f7a9a7"/>
<rect x="426.08" y="370.0" width="8.1" height="87.2" fill="#f7a9a7"/>
<rect x="435.19" y="404.9" width="8.1" height="52.3" fill="#f7a9a7"/>
<rect x="444.29" y="381.3" width="8.1" height="75.9" fill="#f7a9a7"/>
<rect x="453.40" y="370.0" width="8.1" height="87.2" fill="#f7a9a7"/>
<rect x="462.50" y="391.5" width="8.1" height="65.7" fill="#92d2cc"/>
<rect x="471.60" y="370.0" width="8.1" height="87.2" fill="#f7a9a7"/>
<rect x="480.71" y="370.0" width="8.1" height="87.2" fill="#92d2cc"/>
<rect x="489.81" y="407.6" width="8.1" height="49.6" fill="#92d2cc"/>
<rect x="498.92" y="370.0" width="8.1" height="87.2" fill="#92d2cc"/>
<rect x="508.02" y="370.0" width="8.1" height="87.2" fill="#f7a9a7"/>
<rect x="517.12" y="370.0" width="8.1" height="87.2" fill="#92d2cc"/>
<rect x="526.23" y="370.0" width="8.1" height="87.2" fill="#92d2cc"/>
<rect x="535.33" y="370.0" width="8.1" height="87.2" fill="#f7a9a7"/>
<rect x="544.44" y="370.0" width="8.1" height="87.2" fill="#92d2cc"/>
<rect x="553.54" y="370.0" width="8.1" height="87.2" fill="#f7a9a7"/>
<rect x="562.64" y="370.0" width="8.1" height="87.2" fill="#f7a9a7"/>
<rect x="571.75" y="370.0" width="8.1" height="87.2" fill="#f7a9a7"/>
<rect x="580.85" y="370.0" width="8.1" height="87.2" fill="#92d2cc"/>
<rect x="589.96" y="384.7" width="8.1" height="72.5" fill="#f7a9a7"/>
<rect x="599.06" y="408.2" width="8.1" height="49.0" fill="#92d2cc"/>
<rect x="608.16" y="407.6" width="8.1" height="49.6" fill="#f7a9a7"/>
<rect x="617.27" y="402.4" width="8.1" height="54.8" fill="#f7a9a7"/>
<rect x="626.37" y="414.2" width="8.1" height="43.0" fill="#f7a9a7"/>
<rect x="635.48" y="425.2" width="8.1" height="32.0" fill="#92d2cc"/>
<rect x="644.58" y="400.8" width="8.1" height="56.4" fill="#92d2cc"/>
<rect x="653.68" y="408.2" width="8.1" height="49.0" fill="#f7a9a7"/>
<rect x="662.79" y="436.1" width="8.1" height="21.1" fill="#92d2cc"/>
<rect x="671.89" y="432.2" width="8.1" height="25.0" fill="#92d2cc"/>
<rect x="681.00" y="414.2" width="8.1" height="43.0" fill="#f7a9a7"/>
<rect x="690.10" y="431.1" width="8.1" height="26.1" fill="#f7a9a7"/>
<rect x="699.20" y="445.1" width="8.1" height="12.1" fill="#92d2cc"/>
<rect x="708.31" y="422.2" width="8.1" height="35.0" fill="#f7a9a7"/>
<rect x="717.41" y="404.2" width="8.1" height="53.0" fill="#92d2cc"/>
<rect x="726.52" y="418.7" width="8.1" height="38.5" fill="#92d2cc"/>
<rect x="735.62" y="432.2" width="8.1" height="25.0" fill="#f7a9a7"/>
<rect x="744.72" y="439.1" width="8.1" height="18.1" fill="#f7a9a7"/>
<rect x="753.83" y="422.9" width="8.1" height="34.3" fill="#f7a9a7"/>
<rect x="762.93" y="441.6" width="8.1" height="15.6" fill="#92d2cc"/>
<rect x="772.04" y="439.1" width="8.1" height="18.1" fill="#92d2cc"/>
<rect x="781.14" y="444.2" width="8.1" height="13.0" fill="#f7a9a7"/>
<rect x="790.24" y="439.1" width="8.1" height="18.1" fill="#f7a9a7"/>
<rect x="799.35" y="431.1" width="8.1" height="26.1" fill="#92d2cc"/>
<rect x="808.45" y="438.2" width="8.1" height="19.0" fill="#f7a9a7"/>
<rect x="817.56" y="445.1" width="8.1" height="12.1" fill="#f7a9a7"/>
<rect x="826.66" y="432.2" width="8.1" height="25.0" fill="#92d2cc"/>
<rect x="835.76" y="396.7" width="8.1" height="60.5" fill="#f7a9a7"/>
<rect x="844.87" y="370.0" width="8.1" height="87.2" fill="#f7a9a7"/>
<rect x="853.97" y="396.0" width="8.1" height="61.2" fill="#92d2cc"/>
<rect x="863.08" y="420.2" width="8.1" height="37.0" fill="#92d2cc"/>
<rect x="872.18" y="416.2" width="8.1" height="41.0" fill="#f7a9a7"/>
<rect x="881.28" y="433.1" width="8.1" height="24.1" fill="#92d2cc"/>
<rect x="890.39" y="436.1" width="8.1" height="21.1" fill="#92d2cc"/>
<rect x="899.49" y="441.2" width="8.1" height="16.0" fill="#f7a9a7"/>
<rect x="908.60" y="425.2" width="8.1" height="32.0" fill="#92d2cc"/>
<rect x="917.70" y="443.1" width="8.1" height="14.1" fill="#f7a9a7"/>
<rect x="926.80" y="439.1" width="8.1" height="18.1" fill="#f7a9a7"/>
<rect x="935.91" y="448.1" width="8.1" height="9.1" fill="#f7a9a7"/>
<rect x="945.01" y="447.2" width="8.1" height="10.0" fill="#92d2cc"/>
<rect x="954.12" y="448.1" width="8.1" height="9.1" fill="#92d2cc"/>
<rect x="963.22" y="443.1" width="8.1" height="14.1" fill="#f7a9a7"/>
<rect x="972.32" y="446.4" width="8.1" height="10.8" fill="#92d2cc"/>
<rect x="981.43" y="449.9" width="8.1" height="7.3" fill="#f7a9a7"/>
<rect x="990.53" y="437.1" width="8.1" height="20.1" fill="#f7a9a7"/>
<rect x="999.64" y="442.1" width="8.1" height="15.1" fill="#92d2cc"/>
<rect x="1008.74" y="449.1" width="8.1" height="8.1" fill="#f7a9a7"/>
<rect x="1017.84" y="450.9" width="8.1" height="6.3" fill="#92d2cc"/>
<rect x="1026.95" y="447.2" width="8.1" height="10.0" fill="#f7a9a7"/>
<rect x="1036.05" y="444.2" width="8.1" height="13.0" fill="#f7a9a7"/>
<rect x="1045.16" y="444.2" width="8.1" height="13.0" fill="#92d2cc"/>
<rect x="1054.26" y="446.4" width="8.1" height="10.8" fill="#f7a9a7"/>
<rect x="1063.36" y="439.1" width="8.1" height="18.1" fill="#f7a9a7"/>
<rect x="1072.47" y="442.1" width="8.1" height="15.1" fill="#f7a9a7"/>
<rect x="1081.57" y="447.2" width="8.1" height="10.0" fill="#92d2cc"/>
<rect x="1090.68" y="448.1" width="8.1" height="9.1" fill="#f7a9a7"/>
<rect x="1099.78" y="442.1" width="8.1" height="15.1" fill="#f7a9a7"/>
<rect x="1108.88" y="440.6" width="8.1" height="16.6" fill="#92d2cc"/>
<rect x="1117.99" y="442.1" width="8.1" height="15.1" fill="#92d2cc"/>
<rect x="1127.09" y="445.1" width="8.1" height="12.1" fill="#92d2cc"/>
<rect x="1136.20" y="447.2" width="8.1" height="10.0" fill="#f7a9a7"/>
<rect x="1145.30" y="449.1" width="8.1" height="8.1" fill="#f7a9a7"/>
<rect x="1154.40" y="420.2" width="8.1" height="37.0" fill="#92d2cc"/>
<rect x="1163.51" y="443.1" width="8.1" height="14.1" fill="#92d2cc"/>
<rect x="1172.61" y="411.7" width="8.1" height="45.5" fill="#92d2cc"/>
<rect x="1181.72" y="433.7" width="8.1" height="23.5" fill="#92d2cc"/>
<rect x="1190.82" y="433.1" width="8.1" height="24.1" fill="#92d2cc"/>
<rect x="1199.92" y="446.1" width="8.1" height="11.1" fill="#f7a9a7"/>
<rect x="1209.03" y="430.1" width="8.1" height="27.1" fill="#f7a9a7"/>
<rect x="1218.13" y="437.1" width="8.1" height="20.1" fill="#92d2cc"/>
<rect x="1227.24" y="433.7" width="8.1" height="23.5" fill="#f7a9a7"/>
<rect x="1236.34" y="441.2" width="8.1" height="16.0" fill="#92d2cc"/>
<rect x="1245.44" y="440.6" width="8.1" height="16.6" fill="#92d2cc"/>
<rect x="1254.55" y="446.1" width="8.1" height="11.1" fill="#92d2cc"/>
<rect x="1263.65" y="428.9" width="8.1" height="28.3" fill="#92d2cc"/>
<rect x="1272.76" y="433.1" width="8.1" height="24.1" fill="#f7a9a7"/>
<rect x="1281.86" y="434.6" width="8.1" height="22.6" fill="#92d2cc"/>
<rect x="1290.96" y="419.2" width="8.1" height="38.0" fill="#92d2cc"/>
<rect x="1300.07" y="430.1" width="8.1" height="27.1" fill="#92d2cc"/>
<polyline points="96.0,372.0 105.7,380.0 129.6,384.4 141.3,380.0 150.0,372.0 770.0,372.0 782.0,378.0 800.0,380.2 810.0,381.3 825.0,384.0 835.0,385.2 849.0,384.0 860.0,385.8 875.0,387.7 880.0,390.0 902.5,392.2 912.2,394.5 924.9,396.3 939.9,399.7 948.9,400.5 963.9,404.2 984.8,408.2 995.3,415.1 1013.3,421.7 1022.3,423.7 1031.2,426.7 1044.7,429.2 1059.7,430.4 1082.2,431.9 1100.0,432.6 1140.0,434.6 1150.0,434.9 1200.0,435.2 1250.0,435.6 1280.0,436.1 1290.0,435.6 1300.0,436.4 1304.0,437.9" fill="none" stroke="#2a2e39" stroke-width="1.5" stroke-linejoin="round"/>
</g>
<text x="19.1" y="398.5" font-size="12" fill="#2a2e39" textLength="17.4" lengthAdjust="spacingAndGlyphs">Vol</text>
<text x="44.8" y="398.5" font-size="12" fill="#26a69a" textLength="47.1" lengthAdjust="spacingAndGlyphs">17.185M</text>
<text x="19.1" y="416.6" font-size="12" fill="#2a2e39" textLength="132.9" lengthAdjust="spacingAndGlyphs">MA (50, Vol: Volume, 0)</text>
<text x="161.3" y="416.6" font-size="12" fill="#2a2e39" textLength="46.1" lengthAdjust="spacingAndGlyphs">12.285M</text>
<g clip-path="url(#cr)">
<rect x="11" y="486.6" width="1436.5" height="37.8" fill="#f4e6fe"/>
<line x1="11" y1="486.6" x2="1447.5" y2="486.6" stroke="#a3a6af" stroke-width="1" stroke-dasharray="4.3 5.019" stroke-dashoffset="0.12"/>
<line x1="11" y1="505.5" x2="1447.5" y2="505.5" stroke="#c8c0cf" stroke-width="1" stroke-dasharray="4.3 5.019" stroke-dashoffset="0.12"/>
<line x1="11" y1="524.4" x2="1447.5" y2="524.4" stroke="#a3a6af" stroke-width="1" stroke-dasharray="4.3 5.019" stroke-dashoffset="0.12"/>
<polyline points="11.1,491.5 20.4,490.9 28.8,504.8 37.6,500.4 46.5,493.7 56.4,496.4 66.4,496.8 74.1,494.4 84.1,495.1 93.0,494.4 101.8,494.0 111.8,489.3 119.5,495.5 129.5,489.3 138.3,473.8 147.2,470.1 157.1,487.1 164.9,482.7 174.9,485.5 183.7,477.6 192.6,478.9 201.4,476.7 210.3,472.3 220.2,471.8 229.1,476.7 237.9,487.1 246.8,487.8 256.7,494.4 265.6,498.2 274.5,496.0 284.4,500.4 293.3,504.8 302.1,504.1 311.0,508.6 319.8,509.2 329.8,498.2 338.9,496.6 347.7,498.8 357.0,497.1 366.5,491.5 375.4,490.4 384.9,494.8 393.5,495.3 402.6,501.9 411.5,495.1 420.7,495.5 429.6,496.6 438.9,497.7 448.4,498.8 456.8,505.0 466.1,501.5 475.6,509.4 484.9,505.9 493.8,504.4 502.2,501.0 511.5,502.8 520.8,501.3 529.6,497.7 539.2,515.2 548.0,511.0 557.5,514.8 566.4,517.0 575.2,519.9 585.0,512.8 593.4,513.2 603.3,511.2 612.2,512.8 621.1,514.8 630.6,516.5 639.4,513.2 648.7,508.3 657.6,509.2 666.6,508.1 675.9,507.7 684.3,510.3 694.3,512.1 703.8,511.0 712.0,514.1 720.9,513.4 730.4,511.0 739.7,513.2 748.5,513.9 757.4,514.5 766.7,511.4 775.1,511.0 785.1,512.3 795.0,514.1 803.4,513.2 812.7,515.4 821.6,517.4 830.4,516.3 840.4,523.6 848.1,525.8 857.7,518.5 866.9,515.6 875.8,518.7 885.3,518.3 894.2,515.2 903.5,515.4 912.3,510.6 921.6,510.6 931.1,513.7 940.0,513.9 948.8,512.3 957.7,509.9 967.2,513.4 976.5,512.1 985.4,513.2 994.4,515.2 1003.7,513.4 1013.2,514.5 1022.8,513.0 1032.1,513.7 1040.9,514.5 1049.3,514.5 1058.6,517.0 1067.5,517.9 1076.3,518.7 1085.6,517.4 1094.5,520.7 1103.3,523.6 1112.8,515.4 1122.4,511.4 1131.2,509.2 1140.5,509.2 1149.4,509.4 1158.2,506.4 1167.1,502.6 1177.0,491.5 1185.9,489.7 1194.7,489.5 1203.6,491.1 1212.4,495.5 1222.0,494.0 1230.8,498.4 1240.1,496.2 1249.0,495.7 1258.3,494.2 1267.8,486.2 1276.6,493.5 1286.6,489.3 1295.4,486.4 1304.3,480.5" fill="none" stroke="#9c27b0" stroke-width="1.5" stroke-linejoin="round"/>
</g>
<text x="19.3" y="480.8" font-size="12" fill="#2a2e39" textLength="80.6" lengthAdjust="spacingAndGlyphs">RSI (14, close)</text>
<text x="108.1" y="480.8" font-size="12" fill="#9c27b0" textLength="31.8" lengthAdjust="spacingAndGlyphs">75.74</text>
<g clip-path="url(#co)">
<line x1="11" y1="608.6" x2="1447.5" y2="608.6" stroke="#787b86" stroke-width="1" stroke-dasharray="4.3 5.019" stroke-dashoffset="0.12"/>
<polyline points="11.1,602.0 20.4,603.7 28.8,606.0 37.6,605.3 46.5,604.6 56.4,604.2 66.4,604.6 74.1,604.0 84.1,604.6 93.0,604.6 101.8,603.5 111.8,601.5 119.5,602.0 129.5,600.2 138.3,586.5 147.2,578.3 157.1,588.3 165.6,583.4 174.9,584.7 183.3,569.4 193.0,576.5 201.9,572.1 210.7,562.1 220.2,561.5 229.1,555.1 238.6,567.7 247.9,573.6 256.7,577.2 265.6,580.3 274.5,579.4 284.4,582.5 293.9,587.6 302.1,587.1 311.6,593.6 320.5,592.5 329.8,585.4 338.9,597.5 347.7,603.3 357.0,597.5 366.5,598.0 375.4,595.8 384.9,605.5 393.5,605.5 402.6,609.3 411.5,610.4 420.7,610.8 429.6,610.4 438.9,608.2 448.4,608.2 456.8,608.4 466.1,605.5 475.6,610.0 484.9,606.8 493.8,604.2 502.2,602.9 511.5,600.6 520.8,599.3 529.6,604.6 539.2,613.0 548.0,610.8 557.5,614.1 566.4,617.0 575.2,618.6 585.0,615.7 593.4,615.9 603.3,613.3 612.2,616.1 621.1,617.2 630.6,617.9 639.4,616.6 648.7,614.4 657.6,613.5 666.6,614.4 675.9,611.7 684.3,613.9 694.3,615.3 703.8,615.9 712.0,616.6 720.9,616.8 730.4,616.8 739.7,611.7 748.5,613.9 757.4,611.7 766.7,608.6 775.1,605.7 785.1,610.8 795.0,611.3 803.4,611.9 812.7,611.9 821.6,611.3 830.4,609.5 840.4,615.3 848.1,617.5 857.7,615.7 866.9,615.0 875.8,616.8 885.3,615.7 894.2,614.1 903.5,614.6 912.3,611.9 921.6,611.9 931.1,613.9 940.0,613.0 948.8,612.2 957.7,611.3 967.2,613.5 976.5,613.3 985.4,613.0 994.4,613.0 1003.7,613.0 1013.2,612.4 1022.8,611.3 1031.0,611.9 1039.8,607.7 1048.7,605.5 1058.6,609.7 1067.5,610.8 1076.3,609.1 1085.6,609.3 1094.5,611.1 1103.3,611.7 1112.8,612.2 1122.4,611.3 1131.2,609.7 1140.5,609.9 1149.4,610.4 1159.3,610.4 1167.1,608.2 1177.0,606.0 1185.9,604.9 1194.7,604.0 1203.6,604.6 1212.4,605.1 1222.0,605.1 1230.8,605.5 1240.1,604.9 1249.0,604.6 1258.3,603.1 1267.8,600.2 1276.6,601.5 1286.6,600.2 1295.4,597.5 1304.3,592.7" fill="none" stroke="#2962ff" stroke-width="1.5" stroke-linejoin="round"/>
</g>
<text x="19.3" y="568.4" font-size="12" fill="#2a2e39" textLength="87.4" lengthAdjust="spacingAndGlyphs">ROC (22, close)</text>
<text x="115" y="568.4" font-size="12" fill="#2962ff" textLength="29.8" lengthAdjust="spacingAndGlyphs">77.11</text>
<line x1="11" y1="377" x2="1525" y2="377" stroke="#e0e1e3" stroke-width="1"/>
<line x1="11" y1="459.3" x2="1525" y2="459.3" stroke="#e0e1e3" stroke-width="1"/>
<line x1="11" y1="546.5" x2="1525" y2="546.5" stroke="#e0e1e3" stroke-width="1"/>
<line x1="11" y1="626.4" x2="1525" y2="626.4" stroke="#e0e1e3" stroke-width="1"/>
<line x1="1447.5" y1="11" x2="1447.5" y2="656" stroke="#e0e1e3" stroke-width="1"/>
<line x1="1447.5" y1="24.8" x2="1452.5" y2="24.8" stroke="#c9cbd1" stroke-width="1"/>
<text x="1458" y="29.4" font-size="12.5" fill="#2a2e39" textLength="45.4" lengthAdjust="spacingAndGlyphs">2.00000</text>
<line x1="1447.5" y1="77.4" x2="1452.5" y2="77.4" stroke="#c9cbd1" stroke-width="1"/>
<text x="1458" y="82.0" font-size="12.5" fill="#2a2e39" textLength="45.4" lengthAdjust="spacingAndGlyphs">1.60000</text>
<line x1="1447.5" y1="126.3" x2="1452.5" y2="126.3" stroke="#c9cbd1" stroke-width="1"/>
<text x="1458" y="130.9" font-size="12.5" fill="#2a2e39" textLength="45.4" lengthAdjust="spacingAndGlyphs">1.30000</text>
<line x1="1447.5" y1="164.8" x2="1452.5" y2="164.8" stroke="#c9cbd1" stroke-width="1"/>
<text x="1458" y="169.4" font-size="12.5" fill="#2a2e39" textLength="45.4" lengthAdjust="spacingAndGlyphs">1.10000</text>
<line x1="1447.5" y1="212.9" x2="1452.5" y2="212.9" stroke="#c9cbd1" stroke-width="1"/>
<text x="1458" y="217.5" font-size="12.5" fill="#2a2e39" textLength="45.4" lengthAdjust="spacingAndGlyphs">0.90000</text>
<line x1="1447.5" y1="255.9" x2="1452.5" y2="255.9" stroke="#c9cbd1" stroke-width="1"/>
<text x="1458" y="260.5" font-size="12.5" fill="#2a2e39" textLength="45.4" lengthAdjust="spacingAndGlyphs">0.75000</text>
<line x1="1447.5" y1="290.3" x2="1452.5" y2="290.3" stroke="#c9cbd1" stroke-width="1"/>
<text x="1458" y="294.9" font-size="12.5" fill="#2a2e39" textLength="45.4" lengthAdjust="spacingAndGlyphs">0.65000</text>
<line x1="1447.5" y1="329.6" x2="1452.5" y2="329.6" stroke="#c9cbd1" stroke-width="1"/>
<text x="1458" y="334.2" font-size="12.5" fill="#2a2e39" textLength="45.4" lengthAdjust="spacingAndGlyphs">0.55000</text>
<line x1="1447.5" y1="361.6" x2="1452.5" y2="361.6" stroke="#c9cbd1" stroke-width="1"/>
<text x="1458" y="366.2" font-size="12.5" fill="#2a2e39" textLength="45.4" lengthAdjust="spacingAndGlyphs">0.48000</text>
<rect x="1471.5" y="18" width="30" height="18.5" rx="3" fill="#fff" stroke="#d1d4dc" stroke-width="1"/>
<text x="1475.3" y="31.2" font-size="11.5" fill="#2a2e39" textLength="22.4" lengthAdjust="spacingAndGlyphs">USD</text>
<path d="M1447.5,179.7 H1508.3 a2,2 0 0 1 2,2 V195 a2,2 0 0 1 -2,2 H1447.5 Z" fill="#000"/>
<line x1="1447.5" y1="188.3" x2="1452.5" y2="188.3" stroke="#787b86" stroke-width="1"/>
<text x="1458.4" y="193.1" font-size="12.5" fill="#fff" font-weight="bold" textLength="45.2" lengthAdjust="spacingAndGlyphs">1.00004</text>
<line x1="1447.5" y1="382.3" x2="1452.5" y2="382.3" stroke="#c9cbd1" stroke-width="1"/>
<line x1="1447.5" y1="419.4" x2="1452.5" y2="419.4" stroke="#c9cbd1" stroke-width="1"/>
<line x1="1447.5" y1="456.6" x2="1452.5" y2="456.6" stroke="#c9cbd1" stroke-width="1"/>
<g clip-path="url(#cva)">
<text x="1458.5" y="386.6" font-size="12" fill="#2a2e39">50M</text>
<text x="1458.5" y="423.7" font-size="12" fill="#2a2e39">25M</text>
<text x="1458.5" y="460.9" font-size="12" fill="#2a2e39">0</text>
</g>
<line x1="1447.5" y1="477.4" x2="1452.5" y2="477.4" stroke="#c9cbd1" stroke-width="1"/>
<text x="1458.5" y="481.7" font-size="12" fill="#2a2e39">80.00</text>
<line x1="1447.5" y1="514.2" x2="1452.5" y2="514.2" stroke="#c9cbd1" stroke-width="1"/>
<text x="1458.5" y="518.5" font-size="12" fill="#2a2e39">40.00</text>
<line x1="1447.5" y1="568.6" x2="1452.5" y2="568.6" stroke="#c9cbd1" stroke-width="1"/>
<text x="1458.5" y="572.9" font-size="12" fill="#2a2e39">200.00</text>
<line x1="1447.5" y1="608.6" x2="1452.5" y2="608.6" stroke="#c9cbd1" stroke-width="1"/>
<text x="1458.5" y="612.9" font-size="12" fill="#2a2e39">0.00</text>
<line x1="102.4" y1="626.5" x2="102.4" y2="630.5" stroke="#c9cbd1" stroke-width="1"/>
<text x="102.4" y="645.9" font-size="12" fill="#2a2e39" text-anchor="middle" font-weight="bold">Apr</text>
<line x1="202.6" y1="626.5" x2="202.6" y2="630.5" stroke="#c9cbd1" stroke-width="1"/>
<text x="202.6" y="645.9" font-size="12" fill="#2a2e39" text-anchor="middle">12</text>
<line x1="375.6" y1="626.5" x2="375.6" y2="630.5" stroke="#c9cbd1" stroke-width="1"/>
<text x="375.6" y="645.9" font-size="12" fill="#2a2e39" text-anchor="middle" font-weight="bold">May</text>
<line x1="521.2" y1="626.5" x2="521.2" y2="630.5" stroke="#c9cbd1" stroke-width="1"/>
<text x="521.2" y="645.9" font-size="12" fill="#2a2e39" text-anchor="middle">17</text>
<line x1="657.8" y1="626.5" x2="657.8" y2="630.5" stroke="#c9cbd1" stroke-width="1"/>
<text x="657.8" y="645.9" font-size="12" fill="#2a2e39" text-anchor="middle" font-weight="bold">Jun</text>
<line x1="776.1" y1="626.5" x2="776.1" y2="630.5" stroke="#c9cbd1" stroke-width="1"/>
<text x="776.1" y="645.9" font-size="12" fill="#2a2e39" text-anchor="middle">14</text>
<line x1="930.9" y1="626.5" x2="930.9" y2="630.5" stroke="#c9cbd1" stroke-width="1"/>
<text x="930.9" y="645.9" font-size="12" fill="#2a2e39" text-anchor="middle" font-weight="bold">Jul</text>
<line x1="1031.0" y1="626.5" x2="1031.0" y2="630.5" stroke="#c9cbd1" stroke-width="1"/>
<text x="1031.0" y="645.9" font-size="12" fill="#2a2e39" text-anchor="middle">12</text>
<line x1="1122.1" y1="626.5" x2="1122.1" y2="630.5" stroke="#c9cbd1" stroke-width="1"/>
<text x="1122.1" y="645.9" font-size="12" fill="#2a2e39" text-anchor="middle">22</text>
<line x1="1213.1" y1="626.5" x2="1213.1" y2="630.5" stroke="#c9cbd1" stroke-width="1"/>
<text x="1213.1" y="645.9" font-size="12" fill="#2a2e39" text-anchor="middle" font-weight="bold">Aug</text>
<line x1="1349.7" y1="626.5" x2="1349.7" y2="630.5" stroke="#c9cbd1" stroke-width="1"/>
<text x="1349.7" y="645.9" font-size="12" fill="#2a2e39" text-anchor="middle">16</text>
<g fill="#131722"><path d="M11,669.2 H19 V679.2 H15 V672.8 H11 Z"/><circle cx="22.7" cy="670.9" r="1.8"/><path d="M25.6,669.2 H31.7 L29.1,679.2 H23 Z"/></g>
<text x="36" y="678.6" font-size="13.5" fill="#434651" textLength="74.3" lengthAdjust="spacingAndGlyphs">TradingView</text>
</svg></body></html>
